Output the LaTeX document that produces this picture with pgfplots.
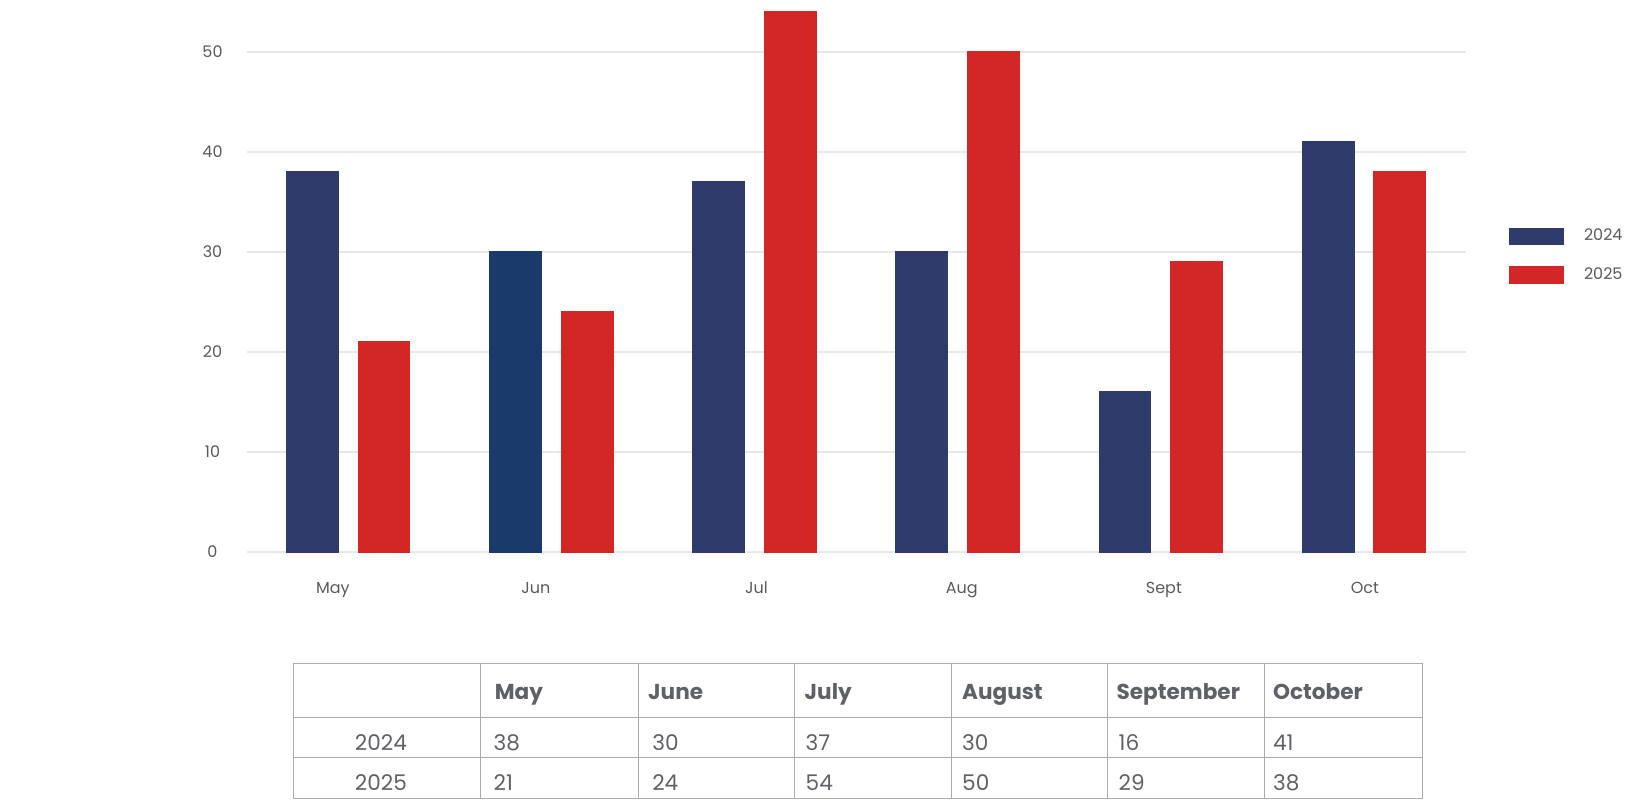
\documentclass[border=0pt]{standalone}
\usepackage{fontspec}
\setmainfont{Poppins}
\usepackage{pgfplots}
\pgfplotsset{compat=1.18}
\definecolor{navy}{HTML}{2F3B6B}
\definecolor{junblue}{HTML}{1A3A6C}
\definecolor{barred}{HTML}{D32727}
\definecolor{gridgray}{HTML}{E8E8E8}
\definecolor{labgray}{HTML}{5A5A5A}
\definecolor{tabline}{HTML}{ABABAB}
\definecolor{tabtext}{HTML}{5F6166}
\begin{document}
\begin{tikzpicture}[x=0.5pt,y=-0.5pt]
\useasboundingbox (0,0) rectangle (1625,800);
\begin{axis}[
  at={(123.35pt,-276pt)}, anchor=south west, scale only axis,
  width=609.4pt, height=275.25pt,
  xmin=-0.5, xmax=5.5, ymin=0, ymax=55,
  axis line style={draw=none},
  major tick length=0pt,
  ytick={0,10,...,50},
  ymajorgrids, grid style={color=gridgray, line width=1pt},
  xtick={-0.076,0.924,2.01,3.02,4.015,5.005},
  xticklabels={May,Jun,Jul,Aug,Sept,Oct},
  /pgf/number format/assume math mode=true,
  ticklabel style={font=\fontsize{8}{9.6}\selectfont, text=labgray},
  xticklabel style={anchor=base, yshift=-20.6pt},
  yticklabel style={anchor=center, xshift=-17.1pt},
  legend image code/.code={\fill[#1] (0pt,-4.15pt) rectangle (27pt,4.15pt);},
  legend style={draw=none, fill=none, at={(1.0357,0.538)}, anchor=west,
    inner sep=0pt, row sep=10.5pt, font=\fontsize{8}{9.6}\selectfont, text=labgray,
    nodes={inner sep=0pt},
    /tikz/every odd column/.append style={column sep=9.8pt}},
  legend cell align=left,
  clip=false,
]
\addplot[ybar, bar width=25.9pt, bar shift=-17.9pt, fill=navy, draw=navy, line width=0.5pt]
  coordinates {(0,38) (1,30) (2,37) (3,30) (4,16) (5,41)};
\addlegendentry{2024}
\addplot[ybar, bar width=25.9pt, bar shift=17.9pt, fill=barred, draw=barred, line width=0.5pt]
  coordinates {(0,21) (1,24) (2,54) (3,50) (4,29) (5,38)};
\addlegendentry{2025}
\addplot[ybar, bar width=25.9pt, bar shift=-17.9pt, fill=junblue, draw=junblue, line width=0.5pt, forget plot]
  coordinates {(1,30)};
\end{axis}
% data table
\begin{scope}[tabline, line width=0.5pt]
\draw (293.3,663.3) rectangle (1422,798);
\draw (293.3,717.2) -- (1422,717.2);
\draw (293.3,757.6) -- (1422,757.6);
\foreach \cx in {480.9,638.4,794.9,951.4,1107.9,1264.4} {\draw (\cx,663.3) -- (\cx,798);}
\end{scope}
\begin{scope}[every node/.style={anchor=base west, inner sep=0pt, text=tabtext, font=\fontsize{10.8}{13}\selectfont}]
\node[font=\fontsize{10.8}{13}\selectfont\bfseries] at (494.4,699.6) {May};
\node[font=\fontsize{10.8}{13}\selectfont\bfseries] at (647.8,699.6) {June};
\node[font=\fontsize{10.8}{13}\selectfont\bfseries] at (804.3,699.6) {July};
\node[font=\fontsize{10.8}{13}\selectfont\bfseries] at (961.8,699.6) {August};
\node[font=\fontsize{10.8}{13}\selectfont\bfseries] at (1116.2,699.6) {September};
\node[font=\fontsize{10.8}{13}\selectfont\bfseries] at (1272.7,699.6) {October};
\node at (354.5,750.5) {2024};
\node at (493.3,750.5) {38};
\node at (651.9,750.5) {30};
\node at (805.3,750.5) {37};
\node at (961.8,750.5) {30};
\node at (1118.3,750.5) {16};
\node at (1272.7,750.5) {41};
\node at (354.5,790.8) {2025};
\node at (493.3,790.8) {21};
\node at (651.9,790.8) {24};
\node at (805.3,790.8) {54};
\node at (961.8,790.8) {50};
\node at (1118.3,790.8) {29};
\node at (1272.7,790.8) {38};
\end{scope}
\end{tikzpicture}
\end{document}
